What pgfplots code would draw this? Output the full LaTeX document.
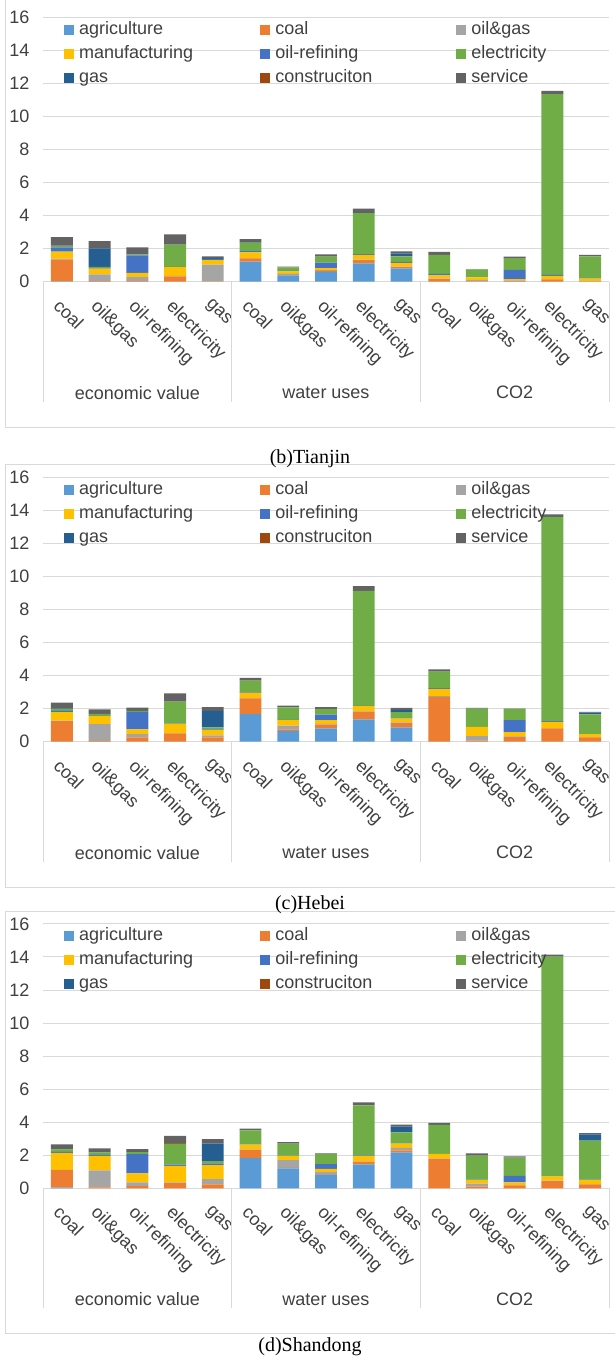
\documentclass[border=0pt]{standalone}
\usepackage{fontspec}
\setmainfont{Liberation Sans}
\newfontfamily\capfont{Liberation Serif}
\usepackage{pgfplots}
\usepackage{pgfplotstable}
\pgfplotsset{compat=1.18}

\definecolor{cAgri}{HTML}{5B9BD5}
\definecolor{cCoal}{HTML}{ED7D31}
\definecolor{cOilgas}{HTML}{A5A5A5}
\definecolor{cManuf}{HTML}{FFC000}
\definecolor{cOilref}{HTML}{4472C4}
\definecolor{cElec}{HTML}{70AD47}
\definecolor{cGas}{HTML}{255E91}
\definecolor{cConstr}{HTML}{9E480E}
\definecolor{cServ}{HTML}{636363}
\definecolor{gridgray}{HTML}{D9D9D9}
\definecolor{txtgray}{HTML}{404040}

% sectors x = economic value (0-4), water uses (5-9), CO2 (10-14)
\pgfplotstableread{
x  agri coal oilgas manuf oilref elec  gas  constr service
0  0.02 1.33 0.05   0.42  0.25   0.08  0.03 0.02   0.50
1  0    0.03 0.41   0.35  0.04   0.06  1.13 0      0.43
2  0    0.03 0.25   0.25  1.06   0.06  0.02 0      0.40
3  0    0.33 0.02   0.53  0.02   1.34  0.02 0.02   0.58
4  0    0.02 1.01   0.27  0.06   0.02  0.06 0      0.10
5  1.21 0.20 0.02   0.34  0.08   0.52  0.02 0      0.18
6  0.38 0.03 0.06   0.16  0.02   0.22  0    0      0.04
7  0.60 0.06 0.04   0.12  0.34   0.36  0    0      0.13
8  1.11 0.20 0.02   0.30  0.04   2.48  0.02 0      0.25
9  0.80 0.08 0.04   0.22  0.06   0.34  0.16 0      0.14
10 0    0.16 0.02   0.20  0.10   1.15  0    0      0.17
11 0    0.02 0.08   0.16  0      0.48  0    0      0.02
12 0    0.04 0.04   0.08  0.56   0.70  0    0      0.10
13 0    0.14 0.02   0.20  0.06   10.93 0    0      0.20
14 0    0.02 0.02   0.14  0.02   1.33  0    0      0.10
}\tianjin

\pgfplotstableread{
x  agri coal oilgas manuf oilref elec  gas  constr service
0  0    1.25 0.02   0.52  0.08   0.12  0.02 0      0.36
1  0    0.03 1.04   0.48  0.02   0.12  0    0      0.26
2  0    0.26 0.20   0.28  1.07   0.06  0    0      0.20
3  0    0.50 0.02   0.56  0.02   1.32  0    0      0.50
4  0    0.26 0.12   0.32  0.04   0.12  1.00 0      0.24
5  1.67 0.95 0.02   0.32  0.02   0.72  0    0      0.16
6  0.66 0.08 0.24   0.32  0.02   0.76  0    0      0.10
7  0.80 0.24 0.04   0.22  0.34   0.34  0    0      0.12
8  1.35 0.46 0.02   0.32  0.02   6.96  0    0      0.28
9  0.87 0.26 0.04   0.22  0.02   0.38  0.14 0      0.12
10 0    2.72 0.04   0.44  0.04   1.00  0    0      0.14
11 0    0.06 0.28   0.56  0      1.10  0    0      0.04
12 0    0.30 0.02   0.26  0.72   0.68  0    0      0.02
13 0    0.80 0.02   0.38  0.04   12.37 0    0      0.14
14 0    0.26 0.02   0.18  0      1.20  0.10 0      0.04
}\hebei

\pgfplotstableread{
x  agri coal oilgas manuf oilref elec  gas  constr service
0  0.04 1.06 0.02   1.03  0.06   0.14  0.02 0      0.29
1  0    0.06 1.03   0.88  0.06   0.14  0.02 0      0.23
2  0    0.14 0.22   0.55  1.16   0.12  0.02 0      0.16
3  0    0.32 0.04   1.00  0.08   1.27  0    0.04   0.42
4  0    0.24 0.32   0.85  0.10   0.14  1.05 0      0.28
5  1.82 0.50 0.02   0.30  0.02   0.85  0    0      0.10
6  1.20 0.04 0.46   0.26  0.02   0.72  0    0      0.10
7  0.80 0.02 0.16   0.20  0.28   0.62  0    0      0.04
8  1.45 0.16 0.02   0.34  0.02   3.03  0    0      0.18
9  2.18 0.12 0.14   0.26  0.02   0.66  0.36 0      0.12
10 0    1.78 0.02   0.28  0      1.76  0    0      0.12
11 0    0.10 0.18   0.22  0.02   1.46  0    0      0.14
12 0    0.18 0.02   0.16  0.40   1.10  0    0      0.08
13 0    0.44 0.02   0.26  0.02   13.28 0    0      0.12
14 0    0.24 0.02   0.24  0.02   2.36  0.38 0      0.08
}\shandong

\newcommand\lblfont{\fontsize{18}{20}\selectfont}

\pgfplotsset{
  sqlegend/.style={legend image code/.code={\fill[##1] (0pt,-5pt) rectangle (10pt,5pt);}},
  panel/.style={
    scale only axis, width=566pt, height=264.4pt, anchor=south west,
    ybar stacked, bar width=0.58,
    xmin=-0.5, xmax=14.5, ymin=0, ymax=16, clip=false,
    ytick={0,2,...,16}, xtick={0,...,14},
    xticklabels={coal,oil\&gas,oil-refining,electricity,gas,
                 coal,oil\&gas,oil-refining,electricity,gas,
                 coal,oil\&gas,oil-refining,electricity,gas},
    axis line style={draw=none}, major tick length=0pt,
    ymajorgrids, grid style={gridgray, line width=1pt},
    tick label style={font=\lblfont, text=txtgray},
    /pgf/number format/assume math mode=true,
    yticklabel style={xshift=-10pt},
    xticklabel style={inner sep=0pt, xshift=0pt, yshift=-16pt, rotate=-45, anchor=north west},
    sqlegend,
    legend columns=3,
    legend cell align=left,
    legend style={at={(axis description cs:0,1)}, anchor=north west,
      xshift=21pt, yshift=-3.5pt, draw=none, fill=none, inner sep=0pt,
      font=\lblfont, text=txtgray, row sep=7pt,
      nodes={inner sep=0pt, text height=13pt, text depth=4pt},
      /tikz/every odd column/.append style={column sep=5pt},
      /tikz/column 2/.style={column sep=67pt},
      /tikz/column 4/.style={column sep=84pt}},
  },
}

\newcommand\stackbars[1]{%
  \addplot[fill=cAgri,   draw=none, sqlegend] table[x=x, y=agri]    {#1};
  \addplot[fill=cCoal,   draw=none, sqlegend] table[x=x, y=coal]    {#1};
  \addplot[fill=cOilgas, draw=none, sqlegend] table[x=x, y=oilgas]  {#1};
  \addplot[fill=cManuf,  draw=none, sqlegend] table[x=x, y=manuf]   {#1};
  \addplot[fill=cOilref, draw=none, sqlegend] table[x=x, y=oilref]  {#1};
  \addplot[fill=cElec,   draw=none, sqlegend] table[x=x, y=elec]    {#1};
  \addplot[fill=cGas,    draw=none, sqlegend] table[x=x, y=gas]     {#1};
  \addplot[fill=cConstr, draw=none, sqlegend] table[x=x, y=constr]  {#1};
  \addplot[fill=cServ,   draw=none, sqlegend] table[x=x, y=service] {#1};
  \legend{agriculture,coal,oil\&gas,manufacturing,oil-refining,electricity,gas,construciton,service}
  % group separators and group names under the category labels
  \draw[gridgray, line width=1pt] (axis cs:-0.5,0) -- ++(0pt,-120pt);
  \draw[gridgray, line width=1pt] (axis cs:4.5,0)  -- ++(0pt,-120pt);
  \draw[gridgray, line width=1pt] (axis cs:9.5,0)  -- ++(0pt,-120pt);
  \draw[gridgray, line width=1pt] (axis cs:14.5,0) -- ++(0pt,-120pt);
  \node[font=\lblfont, text=txtgray] at (axis cs:2,0)  [yshift=-111pt] {economic value};
  \node[font=\lblfont, text=txtgray] at (axis cs:7,0)  [yshift=-111pt] {water uses};
  \node[font=\lblfont, text=txtgray] at (axis cs:12,0) [yshift=-111pt] {CO2};
}

\begin{document}
\begin{tikzpicture}
\useasboundingbox (0pt,0pt) rectangle (615pt,-1357pt);

% chart frames
\draw[gridgray, line width=1pt] (5pt,0pt) -- (5pt,-427pt) -- (616pt,-427pt);
\draw[gridgray, line width=1pt] (616pt,-464pt) -- (5pt,-464pt) -- (5pt,-887pt) -- (616pt,-887pt);
\draw[gridgray, line width=1pt] (616pt,-911pt) -- (5pt,-911pt) -- (5pt,-1333pt) -- (616pt,-1333pt);

\begin{axis}[panel, at={(43pt,-281.7pt)}]
  \stackbars{\tianjin}
\end{axis}
\node[font=\capfont\fontsize{20}{22}\selectfont, anchor=base] at (310pt,-463pt) {(b)Tianjin};

\begin{axis}[panel, at={(43pt,-741.7pt)}]
  \stackbars{\hebei}
\end{axis}
\node[font=\capfont\fontsize{20}{22}\selectfont, anchor=base] at (310pt,-909pt) {(c)Hebei};

\begin{axis}[panel, at={(43pt,-1188.3pt)}]
  \stackbars{\shandong}
\end{axis}
\node[font=\capfont\fontsize{20}{22}\selectfont, anchor=base] at (310pt,-1351pt) {(d)Shandong};
\end{tikzpicture}
\end{document}
